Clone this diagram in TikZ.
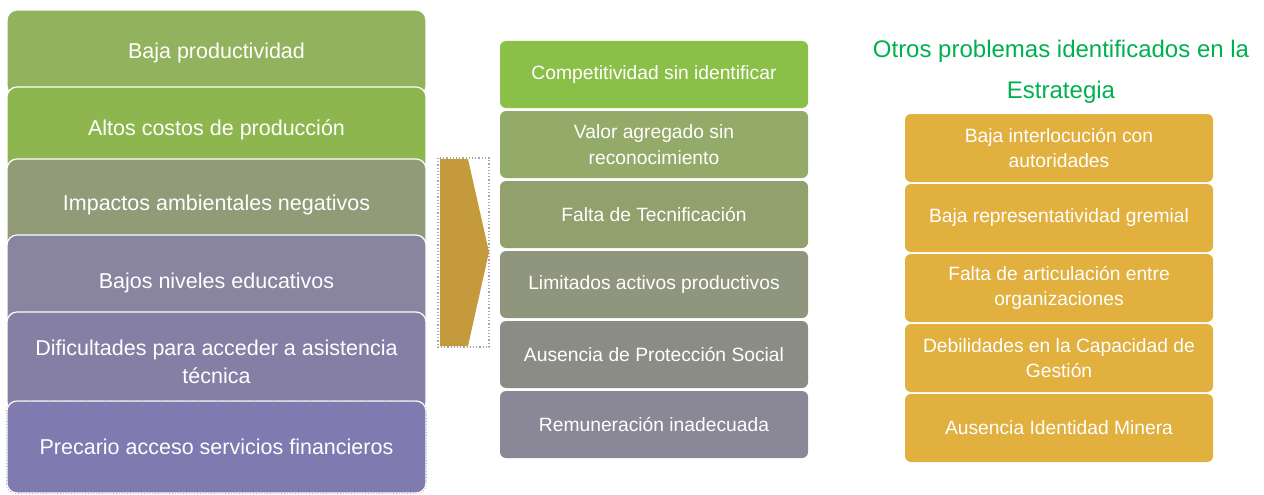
\documentclass[tikz,border=0pt]{standalone}
\usepackage{fontspec}
\setmainfont{Liberation Sans}
\definecolor{cLa}{RGB}{147,178,94}
\definecolor{cLb}{RGB}{141,183,78}
\definecolor{cLc}{RGB}{146,155,120}
\definecolor{cLd}{RGB}{137,133,160}
\definecolor{cLe}{RGB}{133,127,165}
\definecolor{cLf}{RGB}{127,122,176}
\definecolor{cMa}{RGB}{139,192,72}
\definecolor{cMb}{RGB}{148,170,104}
\definecolor{cMc}{RGB}{146,160,110}
\definecolor{cMd}{RGB}{144,150,125}
\definecolor{cMe}{RGB}{140,140,135}
\definecolor{cMf}{RGB}{138,135,150}
\definecolor{cR}{RGB}{225,176,62}
\definecolor{cArrow}{RGB}{196,154,60}
\definecolor{cTitle}{RGB}{0,176,80}
\begin{document}
\begin{tikzpicture}[x=1pt,y=-1pt,
  lbox/.style={draw=white,line width=1.2pt,rounded corners=10pt,minimum width=419pt,
    text=white,align=center,inner sep=0pt,font=\fontsize{21.5}{28}\selectfont},
  mbox/.style={rounded corners=6pt,minimum width=308pt,minimum height=67pt,
    text=white,align=center,inner sep=0pt,font=\fontsize{19.25}{26}\selectfont},
  rbox/.style={fill=cR,rounded corners=6pt,minimum width=308pt,minimum height=68pt,
    text=white,align=center,inner sep=0pt,font=\fontsize{19.25}{25}\selectfont}]
\useasboundingbox (0,0) rectangle (1264,495);
% left column
\node[lbox,fill=cLa,minimum height=86pt] (l1) at (216.5,53) {Baja productividad};
\node[lbox,fill=cLb,minimum height=86pt] (l2) at (216.5,130) {Altos costos de producción};
\node[lbox,fill=cLc,minimum height=92pt] (l3) at (216.5,205) {Impactos ambientales negativos};
\node[lbox,fill=cLd,minimum height=96pt] (l4) at (216.5,283) {Bajos niveles educativos};
\node[lbox,fill=cLe,minimum height=100pt] (l5) at (216.5,362) {Dificultades para acceder a asistencia\\técnica};
\node[lbox,fill=cLf,minimum height=92pt] (l6) at (216.5,447) {Precario acceso servicios financieros};
\draw[gray!60,dotted,rounded corners=10pt,line width=0.8pt] (l6.south west) rectangle (l6.north east);
% arrow
\fill[cArrow] (440,159) -- (468,159) -- (489,252) -- (468,346) -- (440,346) -- cycle;
\draw[gray!70,dotted,line width=1.2pt] (438,158) rectangle (489,347);
% middle column
\node[mbox,fill=cMa] (m1) at (654,74.5) {Competitividad sin identificar};
\node[mbox,fill=cMb] (m2) at (654,144.5) {Valor agregado sin\\reconocimiento};
\node[mbox,fill=cMc] (m3) at (654,214.5) {Falta de Tecnificación};
\node[mbox,fill=cMd] (m4) at (654,284.5) {Limitados activos productivos};
\node[mbox,fill=cMe] (m5) at (654,354.5) {Ausencia de Protección Social};
\node[mbox,fill=cMf] (m6) at (654,424.5) {Remuneración inadecuada};
% right column
\node[text=cTitle,align=center,font=\fontsize{24}{41}\selectfont,inner sep=0pt] (title) at (1061,72) {Otros problemas identificados en la\\Estrategia};
\node[rbox] (r1) at (1059,148) {Baja interlocución con\\autoridades};
\node[rbox] (r2) at (1059,218) {Baja representatividad gremial};
\node[rbox] (r3) at (1059,288) {Falta de articulación entre\\organizaciones};
\node[rbox] (r4) at (1059,358) {Debilidades en la Capacidad de\\Gestión};
\node[rbox] (r5) at (1059,428) {Ausencia Identidad Minera};
\end{tikzpicture}
\end{document}
